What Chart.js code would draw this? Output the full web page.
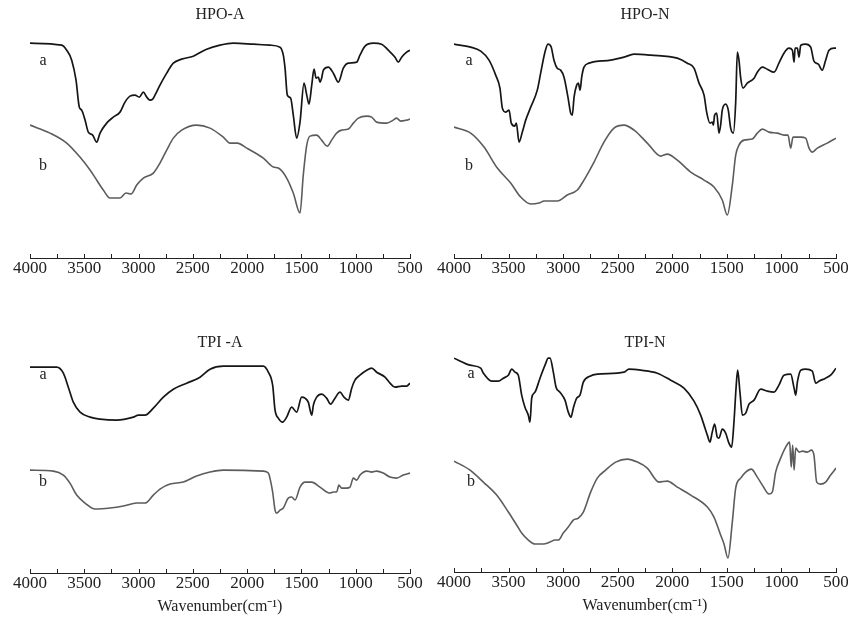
<!DOCTYPE html>
<html>
<head>
<meta charset="utf-8">
<script src="https://cdn.jsdelivr.net/npm/chart.js@4.4.1/dist/chart.umd.min.js"></script>
<style>
  body { margin: 0; background: #fff; }
  .panel { position: absolute; }
</style>
</head>
<body>
<div class="panel" style="left:0;top:0"><canvas id="c1" width="424" height="290"></canvas></div>
<div class="panel" style="left:424px;top:0"><canvas id="c2" width="424" height="290"></canvas></div>
<div class="panel" style="left:0;top:310px"><canvas id="c3" width="424" height="311"></canvas></div>
<div class="panel" style="left:424px;top:310px"><canvas id="c4" width="424" height="311"></canvas></div>
<script>
// x axis: wavenumber (cm-1), ticks every 250, labels every 500
const tickMarks = [4000, 3750, 3500, 3250, 3000, 2750, 2500, 2250, 2000, 1750, 1500, 1250, 1000, 750, 500];
const tickLabels = [4000, 3500, 3000, 2500, 2000, 1500, 1000, 500];

// [wavenumber, transmittance a.u.]
const hpoA_a = [[4000,215],[3708,213],[3662,208],[3616,198],[3576,178],[3546,151],[3524,148],[3493,138],[3463,126],[3423,123],[3386,116],[3355,125],[3294,135],[3233,141],[3171,146],[3125,156],[3079,162],[3033,163],[2993,161],[2956,166],[2925,161],[2895,158],[2870,159],[2849,163],[2803,173],[2741,185],[2680,195],[2603,199],[2496,202],[2373,209],[2250,213],[2127,215],[1943,214],[1790,213],[1697,211],[1667,203],[1651,190],[1630,163],[1599,160],[1575,143],[1544,120],[1513,136],[1476,175],[1451,163],[1430,154],[1405,173],[1384,189],[1365,180],[1344,181],[1329,176],[1314,180],[1298,188],[1252,191],[1206,185],[1160,176],[1114,190],[1068,195],[991,196],[961,203],[914,212],[838,215],[761,214],[700,208],[638,201],[608,196],[577,201],[531,206],[500,208]];
const hpoA_b = [[4000,133],[3816,125],[3662,115],[3540,101],[3447,88],[3386,78],[3325,68],[3263,60],[3171,60],[3116,65],[3070,64],[3017,73],[2956,80],[2864,85],[2803,95],[2741,108],[2680,120],[2603,128],[2465,133],[2342,130],[2220,121],[2158,115],[2091,115],[2004,110],[1851,100],[1759,91],[1713,90],[1636,80],[1575,65],[1513,45],[1483,83],[1451,113],[1421,122],[1360,123],[1314,118],[1262,112],[1222,118],[1176,125],[1130,128],[1068,129],[1022,135],[976,140],[899,142],[853,141],[807,136],[715,135],[654,138],[623,140],[586,137],[531,138],[500,139]];

const hpoN_a = [[4000,214],[3847,211],[3755,207],[3679,198],[3618,183],[3579,170],[3557,150],[3527,146],[3496,148],[3475,135],[3444,132],[3429,135],[3404,116],[3374,126],[3343,138],[3297,151],[3237,168],[3206,185],[3169,205],[3139,214],[3109,211],[3084,198],[3054,190],[3023,188],[2992,181],[2956,161],[2931,145],[2916,143],[2900,161],[2876,173],[2861,175],[2845,168],[2830,181],[2809,191],[2763,195],[2564,198],[2442,201],[2350,204],[2198,203],[1954,200],[1862,195],[1801,190],[1755,175],[1709,163],[1685,146],[1655,135],[1634,136],[1624,133],[1612,143],[1593,145],[1572,125],[1557,133],[1542,148],[1511,154],[1487,148],[1465,130],[1441,125],[1419,156],[1404,206],[1389,198],[1373,180],[1352,170],[1313,175],[1251,180],[1221,186],[1175,191],[1130,189],[1068,186],[1023,195],[977,205],[931,210],[900,208],[884,196],[875,210],[854,210],[839,201],[823,213],[778,214],[732,211],[702,197],[662,194],[626,188],[595,198],[564,208],[518,210],[500,210]];
const hpoN_b = [[4000,131],[3847,125],[3725,111],[3603,90],[3481,75],[3389,61],[3297,54],[3221,55],[3175,57],[3054,57],[2962,63],[2870,68],[2809,78],[2717,96],[2626,116],[2534,130],[2442,133],[2350,128],[2229,115],[2106,102],[2046,104],[1954,98],[1831,86],[1709,78],[1618,71],[1542,58],[1496,43],[1450,73],[1419,103],[1389,113],[1343,118],[1267,119],[1221,125],[1175,129],[1114,126],[1038,125],[977,123],[940,123],[915,110],[894,121],[823,121],[778,120],[747,110],[717,106],[671,110],[580,115],[500,120]];

const tpiA_a = [[4000,206],[3754,206],[3693,200],[3647,186],[3601,171],[3539,161],[3447,156],[3355,154],[3202,153],[3048,156],[3002,158],[2941,158],[2864,165],[2772,176],[2680,184],[2557,190],[2434,196],[2342,204],[2220,207],[1974,207],[1851,207],[1805,201],[1765,188],[1743,163],[1713,155],[1673,151],[1636,156],[1590,166],[1544,161],[1498,176],[1467,175],[1437,171],[1405,158],[1390,168],[1360,176],[1314,179],[1268,175],[1231,169],[1191,175],[1145,181],[1108,176],[1068,173],[1037,185],[1007,193],[961,198],[899,203],[853,205],[807,201],[730,196],[684,190],[638,186],[577,187],[531,187],[500,190]];
const tpiA_b = [[4000,103],[3785,102],[3693,98],[3632,90],[3570,78],[3493,70],[3401,64],[3263,65],[3140,67],[3017,70],[2941,70],[2864,78],[2803,84],[2710,89],[2588,91],[2465,97],[2342,101],[2220,103],[1851,102],[1805,100],[1790,95],[1765,81],[1743,63],[1728,60],[1697,63],[1667,65],[1621,75],[1590,76],[1559,73],[1513,86],[1467,91],[1405,91],[1329,86],[1237,80],[1206,81],[1176,81],[1155,88],[1130,85],[1084,85],[1053,86],[1022,95],[991,93],[961,98],[899,102],[853,101],[807,102],[746,100],[684,96],[623,95],[562,98],[500,100]];

const tpiN_a = [[4000,214],[3853,207],[3755,204],[3731,199],[3655,191],[3594,191],[3548,194],[3502,197],[3471,203],[3441,200],[3411,197],[3380,177],[3350,165],[3319,157],[3304,150],[3288,174],[3258,180],[3212,194],[3166,207],[3136,214],[3120,214],[3090,200],[3065,185],[3029,180],[2983,172],[2953,160],[2928,155],[2907,164],[2876,174],[2846,177],[2815,190],[2754,196],[2687,198],[2442,200],[2397,203],[2290,202],[2137,199],[2015,192],[1893,184],[1801,171],[1740,157],[1709,147],[1679,137],[1655,130],[1634,140],[1612,148],[1588,135],[1572,134],[1542,143],[1511,139],[1481,129],[1456,125],[1435,150],[1414,187],[1401,202],[1380,180],[1358,157],[1327,159],[1297,168],[1251,172],[1190,183],[1130,181],[1068,180],[1023,187],[977,197],[915,198],[884,184],[869,177],[854,190],[823,202],[778,203],[717,201],[686,189],[656,191],[595,194],[549,197],[500,204]];
const tpiN_b = [[4000,111],[3853,102],[3731,90],[3609,77],[3502,60],[3426,47],[3380,39],[3319,32],[3258,28],[3182,28],[3120,30],[3075,32],[3044,32],[2999,39],[2953,45],[2907,52],[2861,54],[2815,60],[2748,80],[2687,94],[2610,102],[2519,110],[2412,113],[2320,110],[2229,104],[2122,90],[2046,91],[1954,85],[1831,77],[1679,65],[1618,55],[1557,37],[1526,28],[1490,14],[1450,50],[1419,84],[1373,94],[1327,100],[1276,103],[1221,95],[1175,87],[1114,78],[1084,80],[1053,100],[1007,114],[961,125],[925,130],[910,105],[897,127],[884,102],[869,124],[838,120],[808,121],[762,120],[726,122],[702,117],[677,90],[641,88],[595,90],[549,97],[500,104]];

const serif = "'Liberation Serif', 'Times New Roman', serif";

// small tick marks pointing up from the axis + the "a"/"b" curve labels
const innerTicks = {
  id: 'innerTicks',
  afterDraw(chart, args, opts) {
    const { ctx, chartArea, scales: { x, y } } = chart;
    ctx.save();
    ctx.strokeStyle = '#222';
    ctx.lineWidth = 1;
    tickMarks.forEach(v => {
      const px = Math.round(x.getPixelForValue(v)) + 0.5;
      ctx.beginPath();
      ctx.moveTo(px, chartArea.bottom);
      ctx.lineTo(px, chartArea.bottom - 4);
      ctx.stroke();
    });
    ctx.fillStyle = '#222';
    ctx.font = '16px ' + serif;
    ctx.textAlign = 'center';
    ctx.textBaseline = 'middle';
    (opts.labels || []).forEach(l => {
      ctx.fillText(l.text, x.getPixelForValue(l.x), y.getPixelForValue(l.y));
    });
    ctx.restore();
  }
};

const makeChart = (id, title, seriesA, seriesB, cfg) => {
  const toPts = arr => arr.map(p => ({ x: p[0], y: p[1] }));
  new Chart(document.getElementById(id), {
    type: 'line',
    data: {
      datasets: [
        { data: toPts(seriesA), borderColor: '#161616', borderWidth: 1.7 },
        { data: toPts(seriesB), borderColor: '#5c5c5c', borderWidth: 1.6 }
      ]
    },
    options: {
      responsive: false,
      devicePixelRatio: 1,
      animation: false,
      parsing: false,
      layout: { padding: cfg.padding },
      elements: {
        point: { radius: 0 },
        line: { cubicInterpolationMode: 'monotone', fill: false }
      },
      plugins: {
        legend: { display: false },
        tooltip: { enabled: false },
        title: {
          display: true,
          text: title,
          color: '#222',
          font: { family: serif, size: 16, weight: 'normal' },
          padding: { top: cfg.titleTop, bottom: 0 }
        },
        innerTicks: { labels: cfg.labels }
      },
      scales: {
        x: {
          type: 'linear',
          reverse: true,
          min: 500,
          max: 4000,
          afterBuildTicks: s => { s.ticks = tickLabels.map(v => ({ value: v })); },
          // let the end labels hang past the plot edge like the original
          afterFit: s => { s.paddingLeft = 0; s.paddingRight = 0; },
          ticks: {
            autoSkip: false,
            maxRotation: 0,
            padding: 0,
            color: '#222',
            font: { family: serif, size: 17 },
            callback: v => String(v)
          },
          grid: { display: true, drawOnChartArea: false, drawTicks: false },
          border: { display: true, color: '#222', width: 1 },
          title: {
            display: cfg.xlabel,
            text: 'Wavenumber(cm⁻¹)',
            color: '#222',
            font: { family: serif, size: 16 },
            padding: { top: 4, bottom: 0 }
          }
        },
        y: { display: false, min: 0, max: cfg.ymax }
      }
    },
    plugins: [innerTicks]
  });
};

makeChart('c1', 'HPO-A', hpoA_a, hpoA_b, {
  padding: { left: 30, right: 14, bottom: 11.6 }, titleTop: 5, ymax: 234, xlabel: false,
  labels: [{ text: 'a', x: 3880, y: 197 }, { text: 'b', x: 3880, y: 92 }]
});
makeChart('c2', 'HPO-N', hpoN_a, hpoN_b, {
  padding: { left: 30, right: 12, bottom: 11.6 }, titleTop: 5, ymax: 234, xlabel: false,
  labels: [{ text: 'a', x: 3863, y: 197 }, { text: 'b', x: 3863, y: 92 }]
});
makeChart('c3', 'TPI -A', tpiA_a, tpiA_b, {
  padding: { left: 30, right: 14, bottom: 4.4 }, titleTop: 23, ymax: 221, xlabel: true,
  labels: [{ text: 'a', x: 3880, y: 198 }, { text: 'b', x: 3880, y: 91 }]
});
makeChart('c4', 'TPI-N', tpiN_a, tpiN_b, {
  padding: { left: 30, right: 12, bottom: 5.4 }, titleTop: 23, ymax: 220, xlabel: true,
  labels: [{ text: 'a', x: 3844, y: 198 }, { text: 'b', x: 3844, y: 90 }]
});
</script>
</body>
</html>
